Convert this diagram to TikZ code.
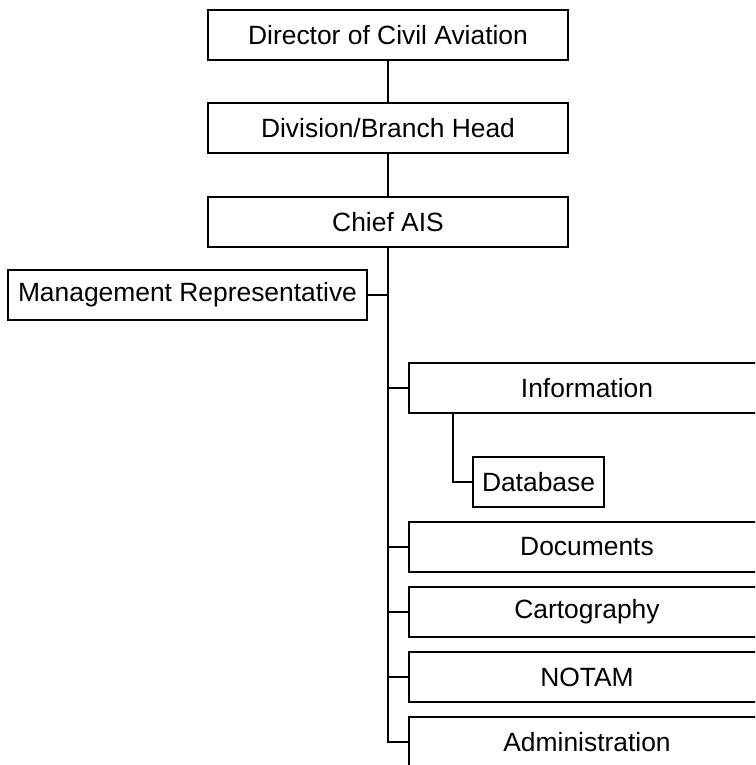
\documentclass[tikz,border=0pt]{standalone}
\usepackage{fontspec}
\setmainfont{Liberation Sans}
\begin{document}
\begin{tikzpicture}[x=1pt,y=-1pt,
  box/.style={draw=black, line width=2pt, inner sep=0pt, minimum height=50pt,
    font=\fontsize{26.4}{32}\selectfont},
  topbox/.style={box, minimum width=360pt},
  sidebox/.style={box, minimum width=356pt},
  conn/.style={draw=black, line width=2pt}]
\path[use as bounding box] (0,0) rectangle (755,765);
\clip (0,0) rectangle (755,765);
\node[topbox] (dca) at (388,35) {Director of Civil Aviation};
\node[topbox] (dbh) at (388,128) {Division/Branch Head};
\node[topbox] (chief) at (388,222) {Chief AIS};
\node[box, minimum width=359pt] (mr) at (187.5,295) {Management Representative};
\node[sidebox] (info) at (587,388) {Information};
\node[box, minimum width=131pt] (db) at (538.5,482) {Database};
\node[sidebox] (docs) at (587,547) {Documents};
\node[sidebox] (carto) at (587,612) {Cartography};
\node[sidebox] (notam) at (587,677) {NOTAM};
\node[sidebox] (admin) at (587,742) {Administration};
\coordinate (dbroot) at (453,413);
\draw[conn] (dca) -- (dbh);
\draw[conn] (dbh) -- (chief);
\draw[conn] (chief.south) |- (admin.west);
\draw[conn] (chief.south |- mr.east) -- (mr.east);
\draw[conn] (chief.south |- info.west) -- (info.west);
\draw[conn] (chief.south |- docs.west) -- (docs.west);
\draw[conn] (chief.south |- carto.west) -- (carto.west);
\draw[conn] (chief.south |- notam.west) -- (notam.west);
\draw[conn] (dbroot) |- (db.west);
\end{tikzpicture}
\end{document}
